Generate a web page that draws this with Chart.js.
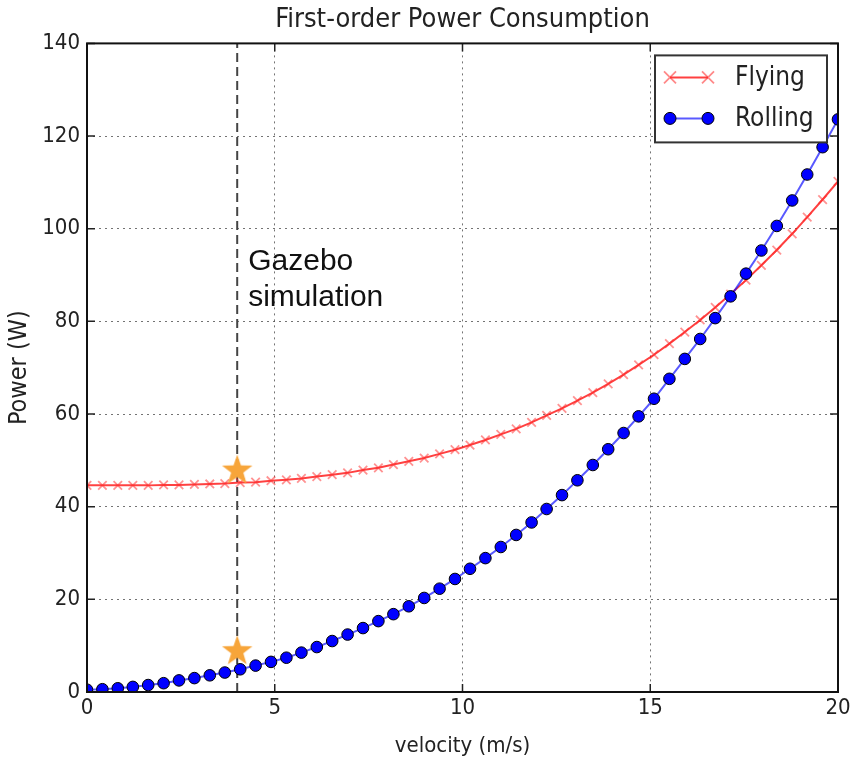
<!DOCTYPE html>
<html lang="en">
<head>
    <meta charset="UTF-8">
    <title>First-order Power Consumption</title>
    <style>
        body {
            margin: 0;
            padding: 0;
            background-color: white;
        }
        canvas {
            display: block;
        }
    </style>
    <script src="https://cdn.jsdelivr.net/npm/chart.js"></script>
</head>
<body>

<canvas id="powerChart" width="855" height="760"></canvas>

<script>
    // velocity samples (m/s)
    const velocity = [0, 0.41, 0.82, 1.22, 1.63, 2.04, 2.45, 2.86, 3.27, 3.67,
        4.08, 4.49, 4.90, 5.31, 5.71, 6.12, 6.53, 6.94, 7.35, 7.76,
        8.16, 8.57, 8.98, 9.39, 9.80, 10.20, 10.61, 11.02, 11.43, 11.84,
        12.24, 12.65, 13.06, 13.47, 13.88, 14.29, 14.69, 15.10, 15.51, 15.92,
        16.33, 16.73, 17.14, 17.55, 17.96, 18.37, 18.78, 19.18, 19.59, 20];

    // power (W)
    const flying = [44.6, 44.6, 44.6, 44.6, 44.6, 44.7, 44.7, 44.8, 44.9, 45.0,
        45.2, 45.3, 45.6, 45.8, 46.1, 46.5, 46.9, 47.3, 47.9, 48.4,
        49.1, 49.8, 50.5, 51.4, 52.3, 53.3, 54.4, 55.6, 56.8, 58.2,
        59.7, 61.2, 62.9, 64.6, 66.5, 68.5, 70.6, 72.8, 75.2, 77.7,
        80.3, 83.0, 85.9, 88.9, 92.1, 95.4, 98.9, 102.5, 106.3, 110.2];

    const rolling = [0.5, 0.6, 0.8, 1.1, 1.5, 1.9, 2.5, 3.0, 3.6, 4.2,
        4.9, 5.7, 6.5, 7.4, 8.5, 9.7, 11.0, 12.4, 13.8, 15.3,
        16.8, 18.5, 20.3, 22.3, 24.4, 26.6, 28.9, 31.3, 33.9, 36.6,
        39.5, 42.5, 45.7, 49.0, 52.4, 55.9, 59.5, 63.3, 67.6, 71.9,
        76.2, 80.7, 85.4, 90.3, 95.3, 100.6, 106.1, 111.7, 117.6, 123.6];

    // Gazebo simulation points and marker line
    const simVelocity = [4, 4];
    const simPower = [48, 9];
    const simLineX = [4, 4];
    const simLineY = [0, 140];
    const noteText = ['Gazebo', 'simulation'];
    const noteY = [91, 83.3];

    const legendLabels = ['Flying', 'Rolling'];

    const FONT = "'DejaVu Sans Condensed', 'DejaVu Sans', sans-serif";

    function toPoints(xs, ys) {
        return xs.map((x, i) => ({ x: x, y: ys[i] }));
    }

    // filled star used as point style
    function makeStar(size, color) {
        const c = document.createElement('canvas');
        c.width = size;
        c.height = size;
        const g = c.getContext('2d');
        const cx = size / 2, cy = size / 2 + 1;
        const outer = size / 2, inner = size / 5;
        g.beginPath();
        for (let i = 0; i < 10; i++) {
            const r = i % 2 === 0 ? outer : inner;
            const a = -Math.PI / 2 + i * Math.PI / 5;
            g.lineTo(cx + r * Math.cos(a), cy + r * Math.sin(a));
        }
        g.closePath();
        g.fillStyle = color;
        g.fill();
        return c;
    }
    const starImg = makeStar(32, '#f7a53a');

    // frame, inward ticks, annotation and legend
    const decorations = {
        id: 'decorations',
        afterDatasetsDraw(chart) {
            const ctx = chart.ctx;
            const area = chart.chartArea;
            const xs = chart.scales.x;
            const ys = chart.scales.y;
            ctx.save();

            // inward ticks
            ctx.strokeStyle = '#222';
            ctx.lineWidth = 1.5;
            ctx.beginPath();
            xs.ticks.forEach(t => {
                const px = xs.getPixelForValue(t.value);
                ctx.moveTo(px, area.bottom);
                ctx.lineTo(px, area.bottom - 8);
                ctx.moveTo(px, area.top);
                ctx.lineTo(px, area.top + 8);
            });
            ys.ticks.forEach(t => {
                const py = ys.getPixelForValue(t.value);
                ctx.moveTo(area.left, py);
                ctx.lineTo(area.left + 8, py);
                ctx.moveTo(area.right, py);
                ctx.lineTo(area.right - 8, py);
            });
            ctx.stroke();

            // frame
            ctx.strokeStyle = '#111';
            ctx.lineWidth = 2;
            ctx.strokeRect(area.left, area.top, area.right - area.left, area.bottom - area.top);

            // annotation
            ctx.fillStyle = '#111';
            ctx.font = "30px 'Liberation Sans', Arial, sans-serif";
            ctx.textAlign = 'left';
            ctx.textBaseline = 'alphabetic';
            const nx = xs.getPixelForValue(simLineX[0]) + 11;
            noteText.forEach((line, i) => {
                ctx.fillText(line, nx, ys.getPixelForValue(noteY[i]));
            });

            // legend
            const bx = area.right - 183, by = area.top + 12;
            const bw = 172, bh = 87;
            ctx.fillStyle = 'white';
            ctx.fillRect(bx, by, bw, bh);
            ctx.strokeStyle = '#333';
            ctx.lineWidth = 2;
            ctx.strokeRect(bx, by, bw, bh);

            const x1 = bx + 15, x2 = bx + 53;
            const rows = [by + 22, by + 63];

            // Flying sample
            ctx.strokeStyle = 'rgba(255, 0, 0, 0.75)';
            ctx.lineWidth = 2;
            ctx.beginPath();
            ctx.moveTo(x1, rows[0]);
            ctx.lineTo(x2, rows[0]);
            ctx.stroke();
            ctx.strokeStyle = 'rgba(255, 40, 40, 0.55)';
            ctx.lineWidth = 1.8;
            [x1, x2].forEach(px => {
                ctx.beginPath();
                ctx.moveTo(px - 6, rows[0] - 6);
                ctx.lineTo(px + 6, rows[0] + 6);
                ctx.moveTo(px - 6, rows[0] + 6);
                ctx.lineTo(px + 6, rows[0] - 6);
                ctx.stroke();
            });

            // Rolling sample
            ctx.strokeStyle = 'rgba(0, 0, 255, 0.65)';
            ctx.lineWidth = 2;
            ctx.beginPath();
            ctx.moveTo(x1, rows[1]);
            ctx.lineTo(x2, rows[1]);
            ctx.stroke();
            ctx.fillStyle = '#0000ff';
            ctx.strokeStyle = '#000';
            ctx.lineWidth = 1;
            [x1, x2].forEach(px => {
                ctx.beginPath();
                ctx.arc(px, rows[1], 6, 0, Math.PI * 2);
                ctx.fill();
                ctx.stroke();
            });

            ctx.fillStyle = '#222';
            ctx.font = '26px ' + FONT;
            ctx.textBaseline = 'middle';
            legendLabels.forEach((label, i) => {
                ctx.fillText(label, bx + 80, rows[i] + 1);
            });

            ctx.restore();
        }
    };

    const ctx = document.getElementById('powerChart').getContext('2d');
    const powerChart = new Chart(ctx, {
        type: 'scatter',
        data: {
            datasets: [
                {
                    label: 'Gazebo',
                    data: toPoints(simVelocity, simPower),
                    showLine: false,
                    pointStyle: starImg,
                    pointRadius: 16,
                    order: 0
                },
                {
                    label: legendLabels[1],
                    data: toPoints(velocity, rolling),
                    showLine: true,
                    borderColor: 'rgba(0, 0, 255, 0.65)',
                    borderWidth: 2,
                    pointStyle: 'circle',
                    pointRadius: 5.8,
                    pointBackgroundColor: '#0000ff',
                    pointBorderColor: '#000',
                    pointBorderWidth: 1,
                    order: 1
                },
                {
                    label: legendLabels[0],
                    data: toPoints(velocity, flying),
                    showLine: true,
                    borderColor: 'rgba(255, 0, 0, 0.75)',
                    borderWidth: 2,
                    pointStyle: 'crossRot',
                    pointRadius: 6,
                    pointBorderColor: 'rgba(255, 40, 40, 0.5)',
                    pointBorderWidth: 1.8,
                    order: 2
                },
                {
                    label: 'sim',
                    data: toPoints(simLineX, simLineY),
                    showLine: true,
                    borderColor: '#444',
                    borderWidth: 2,
                    borderDash: [9, 5],
                    pointRadius: 0,
                    order: 3
                }
            ]
        },
        options: {
            responsive: false,
            animation: false,
            devicePixelRatio: 1,
            layout: { padding: { left: 0, right: 15, top: 0, bottom: 0 } },
            plugins: {
                legend: { display: false },
                tooltip: { enabled: false },
                title: {
                    display: true,
                    fullSize: false,
                    text: 'First-order Power Consumption',
                    color: '#222',
                    font: { family: FONT, size: 27, weight: 'normal' },
                    padding: { top: 4, bottom: 7 }
                }
            },
            scales: {
                x: {
                    type: 'linear',
                    min: 0,
                    max: 20,
                    afterFit: s => { s.height = 68; },
                    ticks: {
                        stepSize: 5,
                        padding: 3,
                        color: '#222',
                        font: { family: FONT, size: 22 }
                    },
                    grid: {
                        drawTicks: false,
                        color: 'rgba(0, 0, 0, 0.55)'
                    },
                    border: { display: false, dash: [2, 4] },
                    title: {
                        display: true,
                        text: 'velocity (m/s)',
                        color: '#222',
                        font: { family: FONT, size: 22 },
                        padding: { top: 0, bottom: 1 }
                    }
                },
                y: {
                    min: 0,
                    max: 140,
                    afterFit: s => { s.width = 87; },
                    ticks: {
                        stepSize: 20,
                        padding: 7,
                        color: '#222',
                        font: { family: FONT, size: 22 }
                    },
                    grid: {
                        drawTicks: false,
                        color: 'rgba(0, 0, 0, 0.55)'
                    },
                    border: { display: false, dash: [2, 4] },
                    title: {
                        display: true,
                        text: 'Power (W)',
                        color: '#222',
                        font: { family: FONT, size: 25 },
                        padding: { top: 4, bottom: 0 }
                    }
                }
            }
        },
        plugins: [decorations]
    });
</script>

</body>
</html>
